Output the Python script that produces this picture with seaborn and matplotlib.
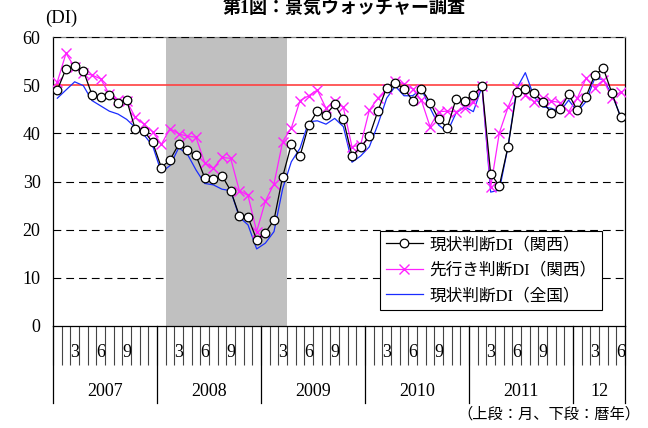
import numpy as np
import pandas as pd
import matplotlib
matplotlib.use("Agg")
import matplotlib.pyplot as plt
import seaborn as sns

# Monthly series, Jan 2007 - Jun 2012
kansai_current = [49.0, 53.4, 54.0, 53.0, 48.0, 47.5, 48.0, 46.4, 46.9, 40.8, 40.5, 38.1,
                  32.9, 34.5, 37.7, 36.5, 35.4, 30.8, 30.5, 31.2, 28.1, 22.9, 22.6, 17.9,
                  19.4, 22.0, 31.0, 37.7, 35.3, 41.7, 44.6, 43.9, 46.0, 42.9, 35.3, 37.1,
                  39.4, 44.7, 49.5, 50.4, 49.3, 46.8, 49.3, 46.4, 42.9, 41.2, 47.1, 46.8,
                  48.0, 49.8, 31.6, 29.1, 37.2, 48.6, 49.3, 48.3, 46.6, 44.2, 45.0, 48.1,
                  44.8, 47.6, 52.1, 53.5, 48.3, 43.3]
kansai_future = [50.7, 56.6, 53.7, 52.5, 52.1, 51.3, 48.1, 46.9, 46.7, 43.3, 41.9, 40.3,
                 37.7, 41.0, 39.9, 39.4, 39.2, 33.9, 32.7, 35.0, 34.8, 28.1, 27.1, 19.6,
                 25.9, 29.5, 38.3, 41.1, 46.8, 47.8, 49.0, 45.2, 46.8, 45.4, 37.2, 37.6,
                 44.8, 47.3, 49.3, 50.9, 50.2, 49.2, 46.9, 41.4, 44.5, 44.6, 44.5, 45.2,
                 46.6, 49.8, 28.8, 40.1, 45.4, 49.7, 48.0, 46.6, 47.3, 46.7, 46.4, 44.5,
                 47.3, 51.4, 49.5, 51.1, 47.3, 48.6]
national_current = [47.3, 49.0, 50.7, 49.9, 46.8, 45.7, 44.6, 44.0, 42.9, 41.2, 39.7, 37.4,
                    31.9, 33.3, 37.0, 35.7, 32.4, 29.6, 29.3, 28.4, 28.1, 22.6, 21.0, 16.0,
                    17.2, 19.6, 28.5, 34.1, 36.9, 42.4, 42.6, 41.9, 43.1, 41.4, 34.0, 35.3,
                    37.2, 41.9, 47.3, 49.8, 47.8, 47.8, 49.2, 45.3, 41.7, 40.3, 44.2, 45.5,
                    44.5, 49.7, 27.8, 28.2, 37.2, 49.3, 52.6, 47.6, 45.5, 45.2, 44.5, 46.9,
                    44.5, 46.6, 51.4, 51.2, 48.0, 43.5]

years = ["2007", "2008", "2009", "2010", "2011", "12"]
months_in_year = [12, 12, 12, 12, 12, 6]
month_labels = ["3", "6", "9"]
y_ticks = [0, 10, 20, 30, 40, 50, 60]

series_names = ["現状判断DI（関西）", "先行き判断DI（関西）", "現状判断DI（全国）"]

# recession shading: Feb 2008 - Mar 2009 (month indices 13..26)
shade_start, shade_end = 13, 26

n = len(kansai_current)
df = pd.DataFrame({
    "month": np.arange(n),
    "kansai_current": kansai_current,
    "kansai_future": kansai_future,
    "national_current": national_current,
})

plt.rcParams["font.family"] = ["Liberation Serif", "Noto Sans CJK JP"]
plt.rcParams["axes.unicode_minus"] = False

fig = plt.figure(figsize=(6.48, 4.28), dpi=100)
ax = fig.add_axes([53 / 648, 1 - 326 / 428, (625 - 53) / 648, (326 - 37) / 428])

# dashed reference lines
for v in [10, 20, 30, 40]:
    ax.axhline(v, color="black", lw=0.8, ls=(0, (7, 4.5)), zorder=0.5)
ax.axhline(60, color="black", lw=0.8, ls=(0, (7, 4.5)), zorder=3)

ax.axvspan(shade_start - 0.5, shade_end + 0.5, color="#c0c0c0", lw=0, zorder=1)
ax.axhline(50, color="#ff4040", lw=1.2, zorder=2)

sns.lineplot(data=df, x="month", y="national_current", ax=ax, color="#1a2cff",
             lw=0.9, label=series_names[2], zorder=4)
sns.lineplot(data=df, x="month", y="kansai_future", ax=ax, color="#ff22ff",
             lw=0.9, marker="x", markersize=6.5, markeredgewidth=1.0,
             markeredgecolor="#ff22ff", label=series_names[1], zorder=5)
sns.lineplot(data=df, x="month", y="kansai_current", ax=ax, color="black",
             lw=0.9, marker="o", markersize=6.2, markerfacecolor="white",
             markeredgecolor="black", markeredgewidth=0.9,
             label=series_names[0], zorder=6)

ax.set_xlim(-0.5, n - 0.5)
ax.set_ylim(0, 60)
ax.set_xlabel("")
ax.set_ylabel("")

ax.set_yticks(y_ticks)
ax.set_yticklabels([str(v) for v in y_ticks])
ax.tick_params(axis="y", length=0, pad=9, labelsize=13)

# month boundary ticks and month labels
ax.set_xticks(np.arange(-0.5, n, 1.0))
ax.set_xticklabels([])
ax.tick_params(axis="x", which="major", direction="out", length=28, width=0.8,
               color="#444444")
minor_pos, minor_lab = [], []
start = 0
for cnt in months_in_year:
    for m in range(cnt):
        if str(m + 1) in month_labels:
            minor_pos.append(start + m)
            minor_lab.append(str(m + 1))
    start += cnt
ax.set_xticks(minor_pos, minor=True)
ax.set_xticklabels(minor_lab, minor=True)
ax.tick_params(axis="x", which="minor", length=0, pad=13, labelsize=13)

# year separators and year labels
trans = ax.get_xaxis_transform()
start = 0
bounds = [-0.5]
for yr, cnt in zip(years, months_in_year):
    ax.text(start + (cnt - 1) / 2, -0.225, yr, transform=trans, ha="center",
            va="center", fontsize=13)
    start += cnt
    bounds.append(start - 0.5)
for b in bounds:
    ax.plot([b, b], [0, -0.266], transform=trans, color="black", lw=0.9,
            clip_on=False)

for s in ["top", "bottom", "left", "right"]:
    ax.spines[s].set_color("black")
    ax.spines[s].set_linewidth(0.9)
ax.spines["top"].set_color("#888888")

handles, labels = ax.get_legend_handles_labels()
order = [labels.index(s) for s in series_names]
leg = ax.legend([handles[i] for i in order], [labels[i] for i in order],
                loc="lower left", bbox_to_anchor=(0.572, 0.055), fontsize=12,
                frameon=True, fancybox=False, framealpha=1, edgecolor="black",
                handlelength=2.2, borderpad=0.35, labelspacing=0.58,
                handletextpad=0.4, borderaxespad=0)
leg.get_frame().set_linewidth(0.8)
leg.set_zorder(10)

fig.text(45 / 648, 1 - 18 / 428, "(DI)", ha="left", va="center", fontsize=13.5)
fig.text(0.531, 1 - 13 / 428, "第1図：景気ウォッチャー調査", ha="center",
         va="baseline", fontsize=13, fontweight="bold")
fig.text(640 / 648, 1 - 414 / 428, "（上段：月、下段：暦年）", ha="right",
         va="center", fontsize=11)

fig.savefig("out.png", dpi=100)
